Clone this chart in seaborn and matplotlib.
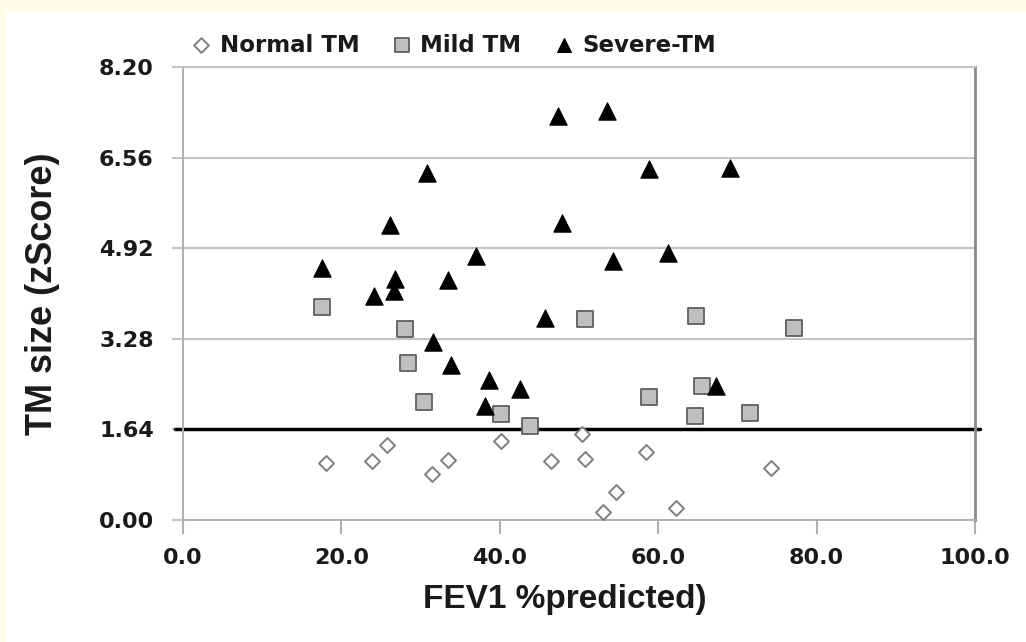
import matplotlib
matplotlib.use("Agg")
import matplotlib.pyplot as plt
import seaborn as sns
import pandas as pd
from matplotlib.patches import Rectangle
from matplotlib.ticker import FormatStrFormatter

# ---- data ----
normal_x = [18.05, 23.9, 25.7, 31.4, 33.4, 40.1, 46.5, 50.4, 50.8, 53.0, 54.7, 58.4, 62.3, 74.2]
normal_y = [1.04, 1.07, 1.35, 0.83, 1.09, 1.43, 1.06, 1.55, 1.10, 0.14, 0.51, 1.23, 0.21, 0.94]

mild_x = [17.5, 28.0, 28.35, 30.45, 40.1, 43.8, 50.8, 58.8, 64.7, 64.8, 65.5, 71.6, 77.1]
mild_y = [3.86, 3.46, 2.85, 2.13, 1.91, 1.70, 3.64, 2.23, 1.88, 3.70, 2.43, 1.94, 3.48]

severe_x = [17.5, 24.1, 26.1, 26.6, 26.75, 30.75, 31.6, 33.4, 33.8, 37.0, 38.15, 38.65,
            42.6, 45.7, 47.4, 47.9, 53.5, 54.3, 58.9, 61.3, 67.3, 69.1]
severe_y = [4.56, 4.05, 5.34, 4.14, 4.37, 6.29, 3.23, 4.34, 2.81, 4.77, 2.07, 2.54,
            2.37, 3.65, 7.31, 5.37, 7.40, 4.68, 6.35, 4.84, 2.42, 6.37]

group_labels = ["Normal TM", "Mild TM", "Severe-TM"]
x_ticks = [0, 20, 40, 60, 80, 100]
y_ticks = [0.00, 1.64, 3.28, 4.92, 6.56, 8.20]
threshold = 1.64
x_label = "FEV1 %predicted)"
y_label = "TM size (zScore)"

# ---- figure ----
sns.set_theme(style="white")
plt.rcParams['font.family'] = ['DejaVu Sans']

W, H = 1026, 642
fig = plt.figure(figsize=(W / 100, H / 100), dpi=100, facecolor="#fffbe6")
fig.patches.append(Rectangle((6 / W, 0), 1, 1 - 11 / H, transform=fig.transFigure,
                             facecolor="white", edgecolor="none", zorder=-10))

ax_l, ax_r, ax_t, ax_b = 183, 975, 67, 520
ax = fig.add_axes([ax_l / W, 1 - ax_b / H, (ax_r - ax_l) / W, (ax_b - ax_t) / H])
ax.set_facecolor("white")

df_n = pd.DataFrame({"x": normal_x, "y": normal_y})
df_m = pd.DataFrame({"x": mild_x, "y": mild_y})
df_s = pd.DataFrame({"x": severe_x, "y": severe_y})

sns.scatterplot(data=df_n, x="x", y="y", ax=ax, marker="D", s=58, color="white",
                edgecolor="#7f7f7f", linewidth=1.4, label=group_labels[0], zorder=3)
sns.scatterplot(data=df_m, x="x", y="y", ax=ax, marker="s", s=135, color="#bfbfbf",
                edgecolor="#5f5f5f", linewidth=1.3, label=group_labels[1], zorder=3)
sns.scatterplot(data=df_s, x="x", y="y", ax=ax, marker="^", s=155, color="black",
                edgecolor="black", linewidth=0.8, label=group_labels[2], zorder=4)

ax.set_xlim(0, 100)
ax.set_ylim(0, 8.20)
ax.set_xticks(x_ticks)
ax.set_yticks(y_ticks)
ax.xaxis.set_major_formatter(FormatStrFormatter("%.1f"))
ax.yaxis.set_major_formatter(FormatStrFormatter("%.2f"))

grid_c = "#c4c4c4"
ax.yaxis.grid(True, color=grid_c, linewidth=1.5, zorder=0)
ax.xaxis.grid(False)
ax.set_axisbelow(True)

ax.axhline(threshold, xmin=-0.010, xmax=1.006, color="black", linewidth=2.5,
           clip_on=False, zorder=2)

for side in ["left", "bottom"]:
    ax.spines[side].set_color("#b0b0b0")
    ax.spines[side].set_linewidth(1.4)
ax.spines["right"].set_color("#8a8a8a")
ax.spines["right"].set_linewidth(2.0)
ax.spines["top"].set_color(grid_c)
ax.spines["top"].set_linewidth(1.5)

ax.tick_params(axis="y", length=8, width=1.5, color=grid_c, pad=13, direction="out", left=True)
ax.tick_params(axis="x", length=10, width=1.5, color="#b0b0b0", pad=10, direction="out", bottom=True)
for lab in ax.get_xticklabels() + ax.get_yticklabels():
    lab.set_fontsize(16)
    lab.set_fontweight("bold")
    lab.set_color("#1a1a1a")

ax.set_xlabel(x_label, fontsize=24, fontweight="bold", family="Liberation Sans", color="#1a1a1a")
ax.set_ylabel(y_label, fontsize=26, fontweight="bold", family="Liberation Sans", color="#1a1a1a")
axw, axh = ax_r - ax_l, ax_b - ax_t
ax.xaxis.set_label_coords((565 - ax_l) / axw, (ax_b - 584) / axh)
ax.yaxis.set_label_coords((60 - ax_l) / axw, 0.5)

leg = ax.legend(loc="center left", bbox_to_anchor=(190 / W, 1 - 45 / H),
                bbox_transform=fig.transFigure, ncol=3, frameon=False,
                handlelength=1.0, handletextpad=0.3, columnspacing=1.35,
                borderpad=0, borderaxespad=0,
                prop={"size": 16.5, "weight": "bold", "family": "DejaVu Sans"})
for t in leg.get_texts():
    t.set_color("#1a1a1a")
sizes = [7.5, 9.5, 10]
for h, s in zip(leg.legend_handles, sizes):
    try:
        h.set_sizes([s ** 2])
    except Exception:
        pass

fig.savefig("out.png", dpi=100, facecolor=fig.get_facecolor())
